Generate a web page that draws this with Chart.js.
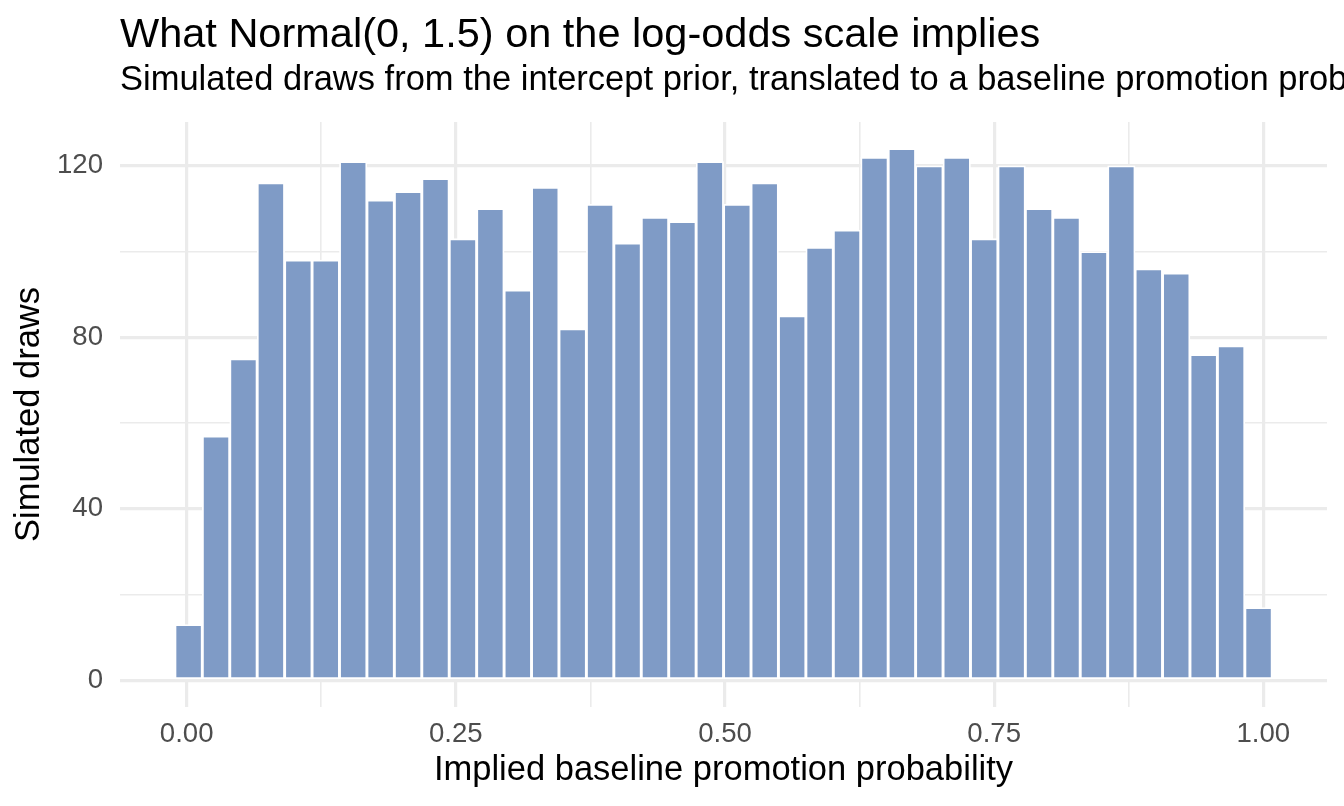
<!DOCTYPE html>
<html>
<head>
<meta charset="utf-8">
<script src="https://cdn.jsdelivr.net/npm/chart.js@4.4.1/dist/chart.umd.min.js"></script>
<style>
  html, body { margin: 0; padding: 0; background: #ffffff; }
  #wrap { position: relative; width: 1344px; height: 806px; }
</style>
</head>
<body>
<div id="wrap"><canvas id="c"></canvas></div>
<script>
// ---- data ----
const titleText = "What Normal(0, 1.5) on the log-odds scale implies";
const subtitleText = "Simulated draws from the intercept prior, translated to a baseline promotion probability";
const xAxisTitle = "Implied baseline promotion probability";
const yAxisTitle = "Simulated draws";

// 40 histogram bins: first bin centre and bin width (probability units)
const binFirstCenter = 0.0018;
const binWidth = 0.02548;
const counts = [13, 57, 75, 116, 98, 98, 121, 112, 114, 117,
                103, 110, 91, 115, 82, 111, 102, 108, 107, 121,
                111, 116, 85, 101, 105, 122, 124, 120, 122, 103,
                120, 110, 108, 100, 120, 96, 95, 76, 78, 17];

const xGridValues = [0, 0.125, 0.25, 0.375, 0.5, 0.625, 0.75, 0.875, 1.0];
const xLabelValues = [0, 0.25, 0.5, 0.75, 1.0];
const yGridValues = [0, 20, 40, 60, 80, 100, 120];
const yLabelValues = [0, 40, 80, 120];

const xMin = -0.0619, xMax = 1.0591;
const yMin = -6.2, yMax = 130.2;

// ---- build ----
const points = counts.map((c, i) => ({ x: binFirstCenter + i * binWidth, y: c }));

const FONT = '"Liberation Sans", Arial, Helvetica, sans-serif';
const isIn = (arr, v) => arr.some(a => Math.abs(a - v) < 1e-9);

const titlePlugin = {
  id: 'ggTitles',
  afterDraw(chart) {
    const ctx = chart.ctx;
    ctx.save();
    ctx.fillStyle = '#000000';
    ctx.textAlign = 'left';
    ctx.textBaseline = 'alphabetic';
    ctx.font = '41.5px ' + FONT;
    ctx.fillText(titleText, chart.chartArea.left, 47);
    ctx.font = '34.5px ' + FONT;
    ctx.fillText(subtitleText, chart.chartArea.left, 89.5);
    ctx.restore();
  }
};

new Chart(document.getElementById('c'), {
  type: 'bar',
  data: {
    datasets: [{
      data: points,
      backgroundColor: '#7f9bc6',
      borderColor: '#ffffff',
      borderWidth: 1.8,
      borderSkipped: false,
      barPercentage: 1.0,
      categoryPercentage: 1.0
    }]
  },
  plugins: [titlePlugin],
  options: {
    responsive: true,
    maintainAspectRatio: false,
    animation: false,
    events: [],
    layout: { padding: { top: 122, right: 17, left: 0, bottom: 0 } },
    plugins: {
      legend: { display: false },
      tooltip: { enabled: false },
      title: { display: false }
    },
    scales: {
      x: {
        type: 'linear',
        min: xMin,
        max: xMax,
        offset: false,
        border: { display: false },
        grid: {
          offset: false,
          color: '#ebebeb',
          drawTicks: false,
          lineWidth: (ctx) => (ctx.tick && isIn(xLabelValues, ctx.tick.value)) ? 3.2 : 1.6
        },
        afterBuildTicks: (scale) => { scale.ticks = xGridValues.map(v => ({ value: v })); },
        afterFit: (scale) => { scale.height = 99; },
        ticks: {
          autoSkip: false,
          maxRotation: 0,
          padding: 11,
          color: '#4d4d4d',
          font: { family: FONT, size: 27.6 },
          callback: (v) => isIn(xLabelValues, v) ? Number(v).toFixed(2) : ''
        },
        title: {
          display: true,
          text: xAxisTitle,
          color: '#000000',
          font: { family: FONT, size: 34.5 },
          padding: { top: 0, bottom: 15 }
        }
      },
      y: {
        type: 'linear',
        min: yMin,
        max: yMax,
        border: { display: false },
        grid: {
          color: '#ebebeb',
          drawTicks: false,
          lineWidth: (ctx) => (ctx.tick && isIn(yLabelValues, ctx.tick.value)) ? 3.2 : 1.6
        },
        afterBuildTicks: (scale) => { scale.ticks = yGridValues.map(v => ({ value: v })); },
        afterFit: (scale) => { scale.width = 120; },
        ticks: {
          autoSkip: false,
          padding: 17,
          color: '#4d4d4d',
          font: { family: FONT, size: 27.6 },
          callback: (v) => isIn(yLabelValues, v) ? String(v) : ''
        },
        title: {
          display: true,
          text: yAxisTitle,
          color: '#000000',
          font: { family: FONT, size: 34.5 },
          padding: { top: 9, bottom: 0 }
        }
      }
    }
  }
});
</script>
</body>
</html>
